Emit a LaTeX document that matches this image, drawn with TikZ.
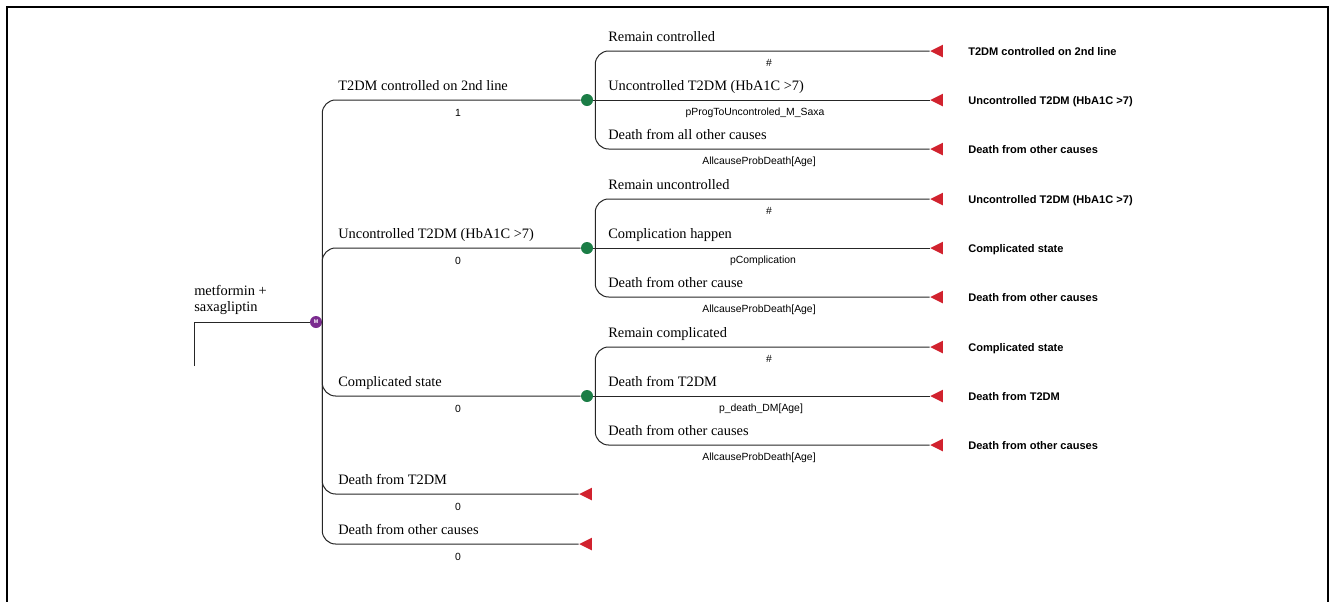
\documentclass[tikz,border=0pt]{standalone}
\usepackage{fontspec}
\setmainfont{Liberation Serif}
\setsansfont{Liberation Sans}
\usetikzlibrary{shapes.geometric}

\definecolor{markovpurple}{HTML}{7B2C8F}
\definecolor{chancegreen}{HTML}{1B7D46}
\definecolor{termred}{HTML}{D1222E}

\tikzset{
  link/.style={draw=black!85, line width=0.75pt},
  branch/.style={link, rounded corners=10pt},
  markov/.style={circle, fill=markovpurple, inner sep=0pt, minimum size=9pt,
    text=white, font=\sffamily\bfseries\fontsize{4}{4}\selectfont},
  chance/.style={circle, fill=chancegreen, inner sep=0pt, minimum size=9pt},
  terminal/.style={isosceles triangle, isosceles triangle stretches,
    shape border rotate=180, fill=termred, inner sep=0pt,
    minimum height=9.5pt, minimum width=9.5pt},
  bname/.style={anchor=base west, inner sep=0pt, font=\fontsize{10.8}{12}\selectfont},
  bprob/.style={anchor=base, inner sep=0pt, font=\sffamily\fontsize{7.8}{9}\selectfont},
  tname/.style={anchor=base west, inner sep=0pt, font=\sffamily\bfseries\fontsize{8.3}{10}\selectfont}
}

\begin{document}
\begin{tikzpicture}[x=0.75pt, y=-0.75pt]
\useasboundingbox (0,0) rectangle (1329,601);
\draw[line width=1.5pt] (7,620) -- (7,7) -- (1328,7) -- (1328,620);

% decision start and markov node
\node[anchor=south west, inner sep=0pt, align=left, font=\fontsize{10.8}{12}\selectfont]
  (root) at (194,314.5) {metformin +\\saxagliptin};
\coordinate (rootfoot) at (194,366);
\node[markov] (mk) at (316,322) {M};
\draw[link] (rootfoot) |- (mk);

% markov states
\node[chance] (ctrl) at (587,100) {};
\node[chance] (unc) at (587,248) {};
\node[chance] (comp) at (587,396) {};
\node[terminal] (dt2) at (588,494) {};
\node[terminal] (doth) at (588,544) {};

\draw[branch] (mk.east) |- (ctrl);
\draw[branch] (mk.east) |- (unc);
\draw[branch] (mk.east) |- (comp);
\draw[branch] (mk.east) |- (dt2);
\draw[branch] (mk.east) |- (doth);

\node[bname] at (338,90.5) {T2DM controlled on 2nd line};
\node[bprob] at (458,116) {1};
\node[bname] at (338,238.5) {Uncontrolled T2DM (HbA1C >7)};
\node[bprob] at (458,264) {0};
\node[bname] at (338,386.5) {Complicated state};
\node[bprob] at (458,412) {0};
\node[bname] at (338,484.5) {Death from T2DM};
\node[bprob] at (458,510) {0};
\node[bname] at (338,534.5) {Death from other causes};
\node[bprob] at (458,560) {0};

% controlled on 2nd line
\node[terminal] (t11) at (939,51) {};
\node[terminal] (t12) at (939,100) {};
\node[terminal] (t13) at (939,149) {};
\draw[branch] ([xshift=1.5pt]ctrl.east) |- (t11);
\draw[link] (ctrl.east) -- (t12.apex);
\draw[branch] ([xshift=1.5pt]ctrl.east) |- (t13);
\node[bname] at (608,41.5) {Remain controlled};
\node[bprob] at (769,66.5) {\#};
\node[bname] at (608,90.5) {Uncontrolled T2DM (HbA1C >7)};
\node[bprob] at (755,115.5) {pProgToUncontroled\_M\_Saxa};
\node[bname] at (608,139.5) {Death from all other causes};
\node[bprob] at (759,164.5) {AllcauseProbDeath[Age]};
\node[tname] at (968,55.5) {T2DM controlled on 2nd line};
\node[tname] at (968,104.5) {Uncontrolled T2DM (HbA1C >7)};
\node[tname] at (968,153.5) {Death from other causes};

% uncontrolled
\node[terminal] (t21) at (939,199) {};
\node[terminal] (t22) at (939,248) {};
\node[terminal] (t23) at (939,297) {};
\draw[branch] ([xshift=1.5pt]unc.east) |- (t21);
\draw[link] (unc.east) -- (t22.apex);
\draw[branch] ([xshift=1.5pt]unc.east) |- (t23);
\node[bname] at (608,189.5) {Remain uncontrolled};
\node[bprob] at (769,214.5) {\#};
\node[bname] at (608,238.5) {Complication happen};
\node[bprob] at (763,263.5) {pComplication};
\node[bname] at (608,287.5) {Death from other cause};
\node[bprob] at (759,312.5) {AllcauseProbDeath[Age]};
\node[tname] at (968,203.5) {Uncontrolled T2DM (HbA1C >7)};
\node[tname] at (968,252.5) {Complicated state};
\node[tname] at (968,301.5) {Death from other causes};

% complicated
\node[terminal] (t31) at (939,347) {};
\node[terminal] (t32) at (939,396) {};
\node[terminal] (t33) at (939,445) {};
\draw[branch] ([xshift=1.5pt]comp.east) |- (t31);
\draw[link] (comp.east) -- (t32.apex);
\draw[branch] ([xshift=1.5pt]comp.east) |- (t33);
\node[bname] at (608,337.5) {Remain complicated};
\node[bprob] at (769,362.5) {\#};
\node[bname] at (608,386.5) {Death from T2DM};
\node[bprob] at (761,411.5) {p\_death\_DM[Age]};
\node[bname] at (608,435.5) {Death from other causes};
\node[bprob] at (759,460.5) {AllcauseProbDeath[Age]};
\node[tname] at (968,351.5) {Complicated state};
\node[tname] at (968,400.5) {Death from T2DM};
\node[tname] at (968,449.5) {Death from other causes};

\end{tikzpicture}
\end{document}
